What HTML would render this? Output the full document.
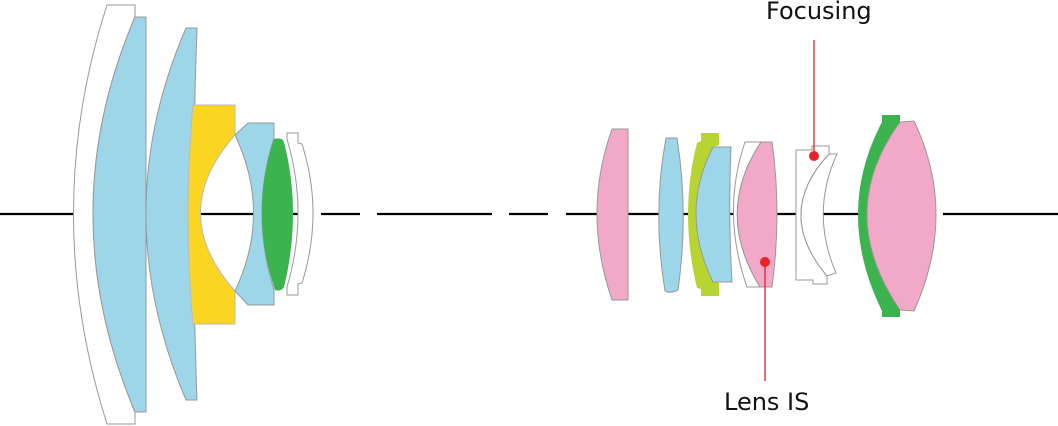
<!DOCTYPE html>
<html><head><meta charset="utf-8"><style>
html,body{margin:0;padding:0;background:#fff;}
svg{display:block}
text{font-family:"DejaVu Sans","Liberation Sans",sans-serif;font-size:24px;fill:#111}
</style></head><body>
<svg width="1058" height="426" viewBox="0 0 1058 426" xmlns="http://www.w3.org/2000/svg">
<g stroke="#000" stroke-width="2.2">
<line x1="0" y1="214" x2="310" y2="214"/>
<line x1="321" y1="214" x2="360" y2="214"/>
<line x1="377" y1="214" x2="492" y2="214"/>
<line x1="509" y1="214" x2="548" y2="214"/>
<line x1="566" y1="214" x2="935" y2="214"/>
<line x1="943" y1="214" x2="1058" y2="214"/>
</g>
<g stroke="#999" stroke-width="1">
<!-- left group -->
<path d="M107,5 L135,5 L135,17 Q51,213 135,412 L135,424 L107,424 Q40,213 107,5 Z" fill="#fff"/>
<path d="M135,17 L146,17 L146,412 L135,412 Q51,213 135,17 Z" fill="#9dd5e9"/>
<path d="M186,28 L197,28 Q190,213 197,400 L186,400 Q106,213 186,28 Z" fill="#9dd5e9"/>
<path d="M193,105 L235,105 L235,135 Q166,213 235,291 L235,324 L193,324 Q183,213 193,105 Z" fill="#fcd523" stroke="#bbb"/>
<path d="M248,123 L274,123 L274,138 Q250,213 274,290 L274,305 L248,305 L235,291 Q272,213 235,135 Z" fill="#9dd5e9"/>
<path d="M274,139 Q282,137 284,142 Q302,213 284,287 Q281,292 275,290 Q249,213 274,139 Z" fill="#3bb34f" stroke="none"/>
<path d="M287,133 L298,133 L298,143 L302,144 Q324,213 302,283 L298,284 L298,295 L287,295 L287,287 Q309,213 287,139 Z" fill="#fff"/>
<!-- right group -->
<path d="M612,129 L628,129 L628,300 L612,300 Q582,213 612,129 Z" fill="#f2a8c7"/>
<path d="M666,138 L677,138 Q689,213 678,290 Q670,294 665,291 Q652,213 666,138 Z" fill="#9dd5e9"/>
<path d="M701,133 L719,133 L719,145 L713,147 Q679,213 713,281 L719,283 L719,296 L701,296 L701,289 L697,288 Q679,213 697,143 L701,141 Z" fill="#b8d432" stroke="none"/>
<path d="M713,147 L731,147 Q728,213 732,282 L713,282 Q679,213 713,147 Z" fill="#9dd5e9"/>
<path d="M745,142 L761,142 Q714,213 760,287 L747,287 Q721,213 745,142 Z" fill="#fff"/>
<path d="M761,142 L772,142 Q782,213 772,287 L760,287 Q714,213 761,142 Z" fill="#f2a8c7"/>
<path d="M796,150 L812,150 L812,146 L829,146 L829,154 Q774,213 827,276 L827,284 L813,284 L813,280 L796,280 Z" fill="#fff"/>
<path d="M829,154 L837,154 Q810,213 836,273 L827,276 Q774,213 829,154 Z" fill="#fff"/>
<path d="M882,115 L900,115 L900,122 Q834,213 900,310 L900,317 L882,317 L882,311 Q834,213 882,122 Z" fill="#3bb34f" stroke="none"/>
<path d="M900,122 L914,121 Q958,213 914,311 L900,310 Q834,213 900,122 Z" fill="#f2a8c7"/>
</g>
<g stroke="#e0222a" stroke-width="1.3"><line x1="814" y1="40" x2="814" y2="156"/><line x1="765" y1="262" x2="765" y2="381"/></g>
<circle cx="814" cy="156" r="5" fill="#e8242b"/>
<circle cx="765" cy="262" r="5" fill="#e8242b"/>
<text x="766" y="19">Focusing</text>
<text x="724" y="410">Lens IS</text>
</svg>
</body></html>
